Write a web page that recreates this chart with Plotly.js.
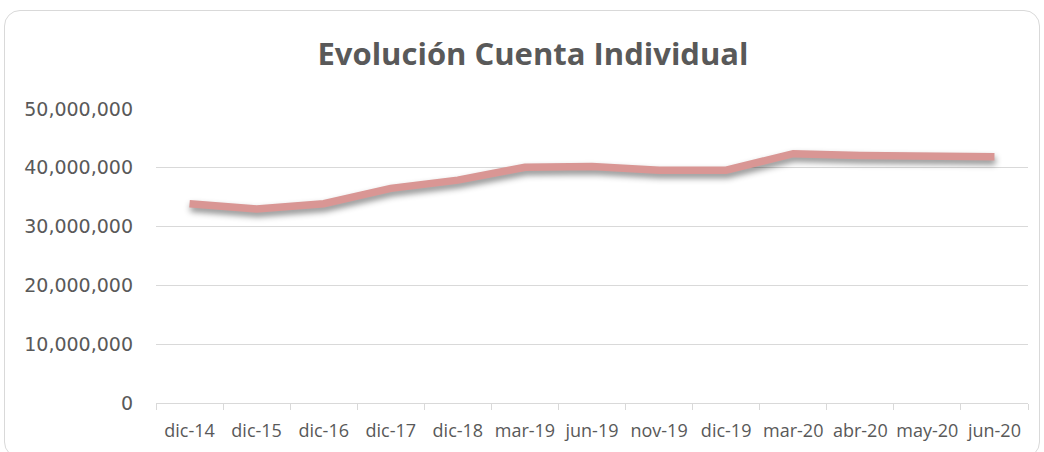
<!DOCTYPE html>
<html>
<head>
<meta charset="utf-8">
<script src="https://cdn.plot.ly/plotly-3.0.1.min.js"></script>
<style>
  html, body { margin: 0; padding: 0; background: #ffffff; }
  #wrap { position: relative; width: 1044px; height: 452px; overflow: hidden; }
  #chart { position: absolute; left: 0; top: 0; width: 1044px; height: 452px; }
  #frame { position: absolute; left: 4px; top: 10px; width: 1034px; height: 446px;
           border: 1.5px solid #D9D9D9; border-radius: 16px; pointer-events: none; }
  .scatterlayer .trace path.js-line { filter: drop-shadow(1px 4px 3px rgba(0,0,0,0.45)); }
</style>
</head>
<body>
<div id="wrap">
  <div id="chart"></div>
  <div id="frame"></div>
</div>
<script>
const chartTitle = "Evolución Cuenta Individual";
const categories = ["dic-14", "dic-15", "dic-16", "dic-17", "dic-18", "mar-19", "jun-19",
                    "nov-19", "dic-19", "mar-20", "abr-20", "may-20", "jun-20"];
const cuentaIndividual = [33900000, 33000000, 33900000, 36500000, 37900000, 40100000, 40200000,
                          39600000, 39600000, 42400000, 42100000, 42100000, 41900000];
const yTickValues = [0, 10000000, 20000000, 30000000, 40000000, 50000000];
const yTickLabels = ["0", "10,000,000", "20,000,000", "30,000,000", "40,000,000", "50,000,000"];

const trace = {
  type: "scatter",
  mode: "lines",
  x: categories,
  y: cuentaIndividual,
  line: { color: "#D99694", width: 7.5, shape: "linear" },
  hoverinfo: "x+y",
  showlegend: false
};

const layout = {
  width: 1044,
  height: 452,
  paper_bgcolor: "#ffffff",
  plot_bgcolor: "#ffffff",
  margin: { l: 156, r: 16, t: 109, b: 48.5, pad: 0 },
  title: {
    text: "<b>" + chartTitle + "</b>",
    font: { family: "Open Sans, sans-serif", size: 31, color: "#595959" },
    x: 533 / 1044, xref: "container", xanchor: "center",
    y: 1 - 54 / 452, yref: "container", yanchor: "middle"
  },
  xaxis: {
    type: "category",
    range: [-0.5, 12.5],
    showgrid: false,
    zeroline: false,
    showline: true,
    linecolor: "#D9D9D9",
    linewidth: 1,
    ticks: "outside",
    tickson: "boundaries",
    ticklen: 6,
    tickcolor: "#D9D9D9",
    tickangle: 0,
    tickfont: { family: "Open Sans, sans-serif", size: 18, color: "#595959" },
    ticklabelstandoff: 11,
    fixedrange: true
  },
  yaxis: {
    range: [0, 50000000],
    tickvals: yTickValues,
    ticktext: yTickLabels,
    showgrid: true,
    gridcolor: "#D9D9D9",
    gridwidth: 1,
    zeroline: false,
    showline: false,
    ticks: "",
    tickfont: { family: "DejaVu Sans, sans-serif", size: 19, color: "#595959" },
    ticklabelstandoff: 22,
    fixedrange: true
  }
};

Plotly.newPlot("chart", [trace], layout, { displayModeBar: false, staticPlot: true });
</script>
</body>
</html>
